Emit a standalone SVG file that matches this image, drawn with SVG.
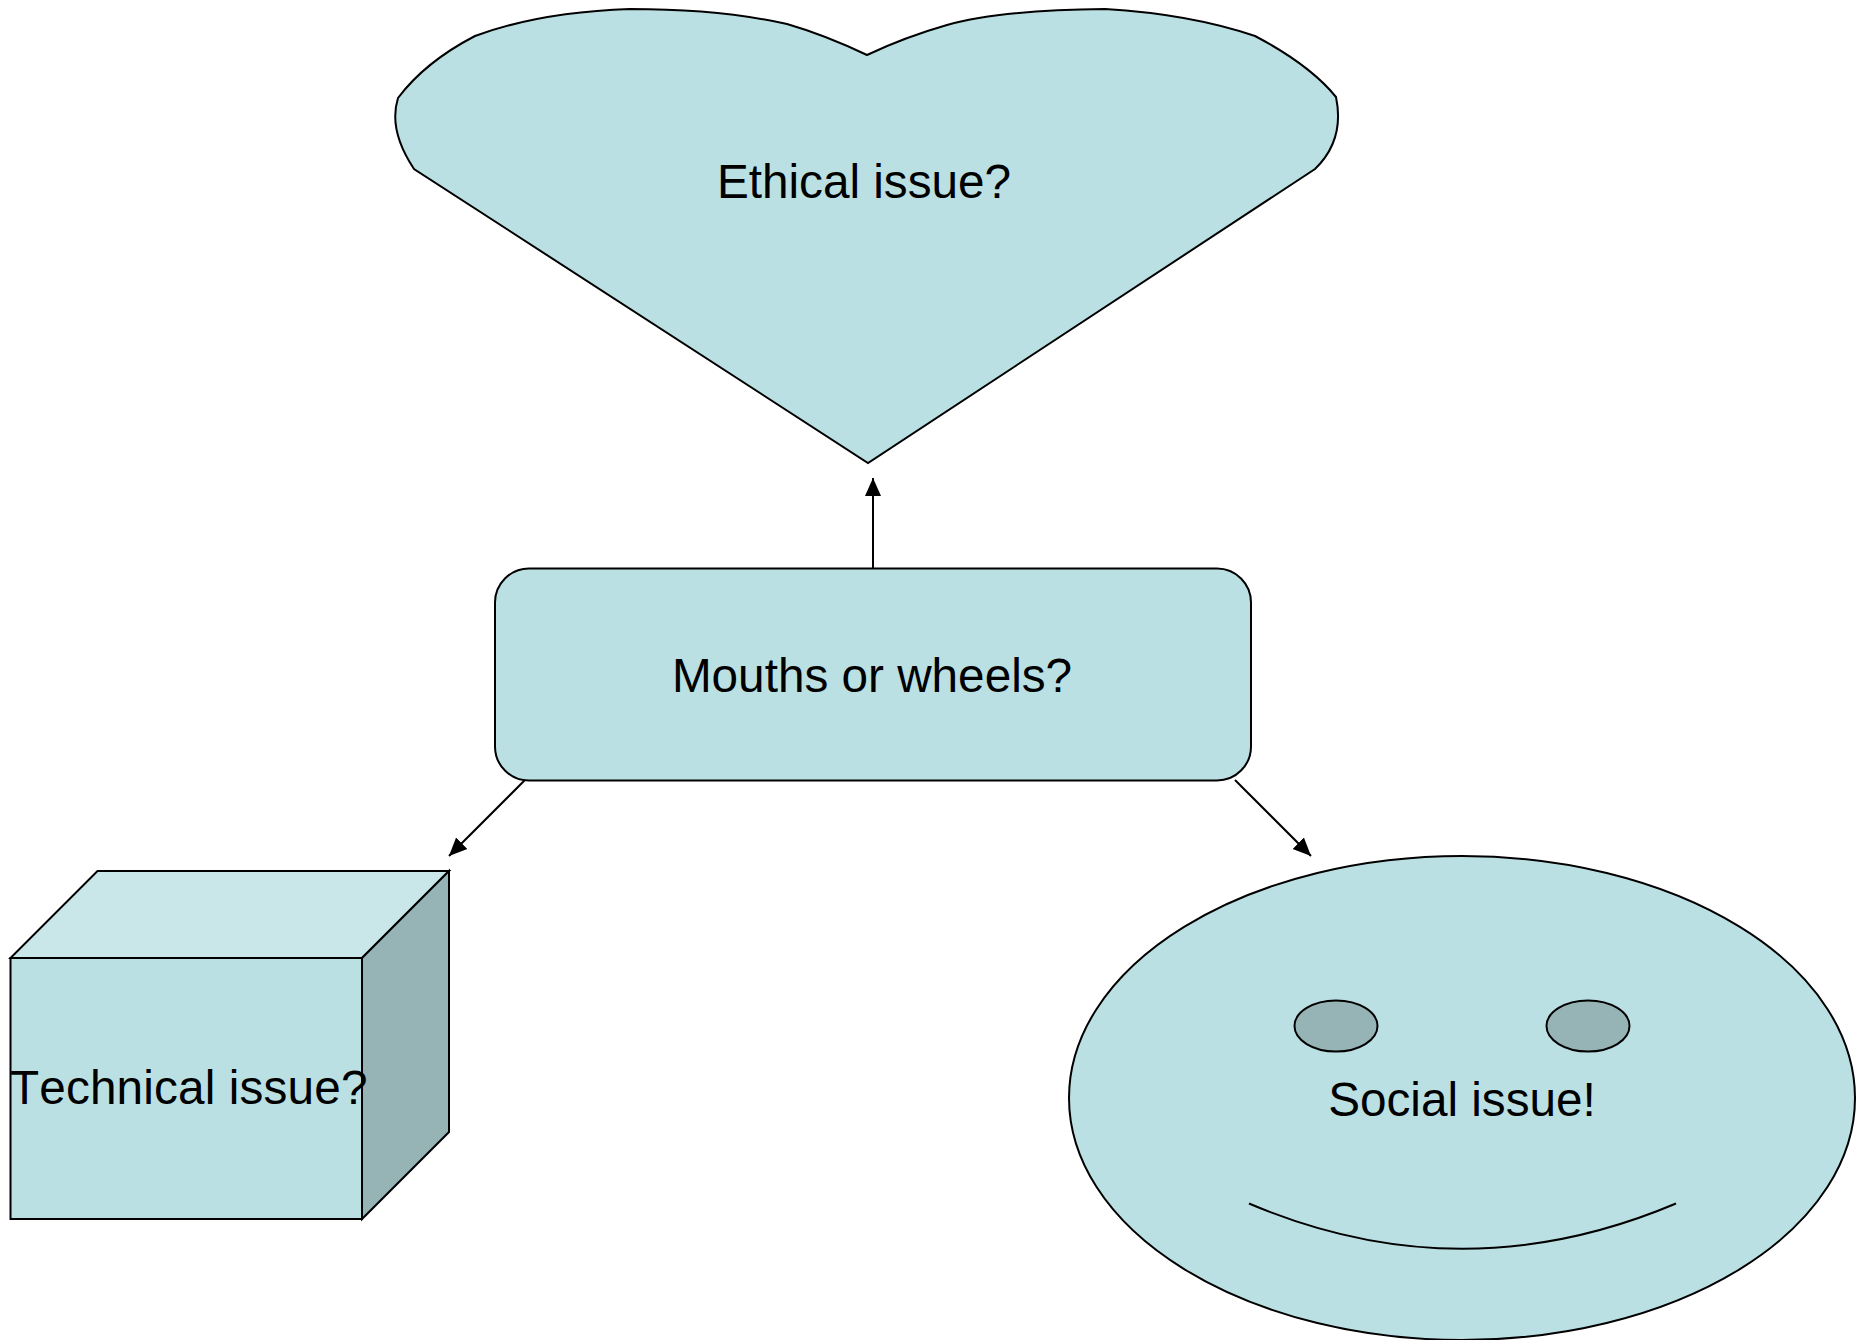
<svg xmlns="http://www.w3.org/2000/svg" width="1865" height="1340" viewBox="0 0 1865 1340">
<style>
.s{fill:#bbe0e3;stroke:#000;stroke-width:2;stroke-linejoin:miter}
.d{fill:#96b3b6;stroke:#000;stroke-width:2}
.l{fill:#c9e6e9;stroke:#000;stroke-width:2}
.n{fill:none;stroke:#000;stroke-width:2}
text{font-family:"Liberation Sans",Arial,sans-serif;font-size:47.700px;font-kerning:none;fill:#000}
.m{text-anchor:middle}
</style>
<defs>
<marker id="a" markerUnits="userSpaceOnUse" markerWidth="18" markerHeight="18" viewBox="0 0 18 16" refX="18" refY="8" orient="auto"><path d="M0 0L18 8L0 16Z" fill="#000"/></marker>
</defs>
<rect width="1865" height="1340" fill="#fff"/>
<g id="connectors">
<path class="n" marker-end="url(#a)" d="M873 568V478"/>
<path class="n" marker-end="url(#a)" d="M525 780L449 856"/>
<path class="n" marker-end="url(#a)" d="M1235 780L1311 856"/>
</g>
<g id="ethical">
<path class="s" d="M867 55Q825 35 787 24Q720 9 630 9Q540 12 475 36Q425 62 398 98Q388 130 414 169L868 463L1315 169Q1345 140 1336 97Q1310 65 1255 36Q1190 14 1105 9Q1000 10 947 25Q905 37 867 55Z"/>
<text class="m" x="864" y="197.500">Ethical issue?</text>
</g>
<g id="mouths">
<rect class="s" x="495" y="568.500" width="756" height="212" rx="34" ry="34"/>
<text class="m" x="872" y="692">Mouths or wheels?</text>
</g>
<g id="technical">
<path class="s" d="M10.500 958H362V1219H10.500Z"/>
<path class="l" d="M10.500 958L97.500 871H449L362 958Z"/>
<path class="d" d="M362 958L449 871V1132L362 1219Z"/>
<text x="10" y="1104" letter-spacing="0.150">Technical issue?</text>
</g>
<g id="social">
<ellipse class="s" cx="1462" cy="1098" rx="393" ry="242"/>
<ellipse class="d" cx="1336" cy="1026" rx="41.500" ry="25.500"/>
<ellipse class="d" cx="1588" cy="1026" rx="41.500" ry="25.500"/>
<path class="n" d="M1249 1203.500Q1462 1294 1676 1203.500"/>
<text class="m" x="1462" y="1116">Social issue!</text>
</g>
</svg>
